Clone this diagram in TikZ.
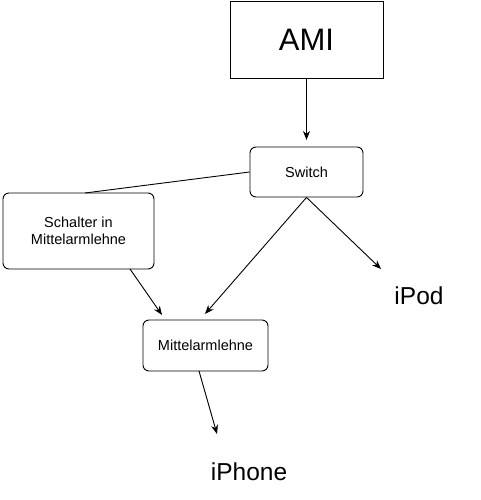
\documentclass[tikz,border=0pt]{standalone}
\usepackage{fontspec}
\setmainfont{Liberation Sans}
\usetikzlibrary{arrows.meta}

\begin{document}
\begin{tikzpicture}[x=1pt,y=-1pt,>={Stealth[length=9pt,width=7pt]},
  box/.style={draw,line width=0.9pt,inner sep=0pt,font=\fontsize{14.5}{17}\selectfont,align=center},
  rbox/.style={box,rounded corners=6pt},
  lbl/.style={inner sep=0pt,font=\fontsize{24.5}{28}\selectfont}]
  \useasboundingbox (0,0) rectangle (480,500);
  \path (306.5,39.5) node[box,minimum width=153pt,minimum height=77pt,font=\fontsize{31}{36}\selectfont] (ami) {AMI}
  (306.5,172) node[rbox,minimum width=113pt,minimum height=50pt] (sw) {Switch}
  (78.5,231) node[rbox,minimum width=151pt,minimum height=76pt] (sch) {Schalter in\\Mittelarmlehne}
  (205.5,345.5) node[rbox,minimum width=125pt,minimum height=51pt] (mit) {Mittelarmlehne}
  (419,296) node[lbl] (ipod) {iPod}
  (249,472) node[lbl] (iphone) {iPhone};
  % free arrow ends
  \coordinate (e1) at (306.5,140);
  \coordinate (e2) at (205,314);
  \coordinate (e3) at (381,269);
  \coordinate (e4) at (162,315);
  \coordinate (e5) at (217,434);
  \draw[line width=0.9pt,->] (ami) -- (e1);
  \draw[line width=0.9pt] (85,193) -- (sw.west);
  \draw[line width=0.9pt,->] (sw.south) -- (e2);
  \draw[line width=0.9pt,->] (sw.south) -- (e3);
  \draw[line width=0.9pt,->] (130,269) -- (e4);
  \draw[line width=0.9pt,->] (199,371) -- (e5);
  \end{tikzpicture}
\end{document}
